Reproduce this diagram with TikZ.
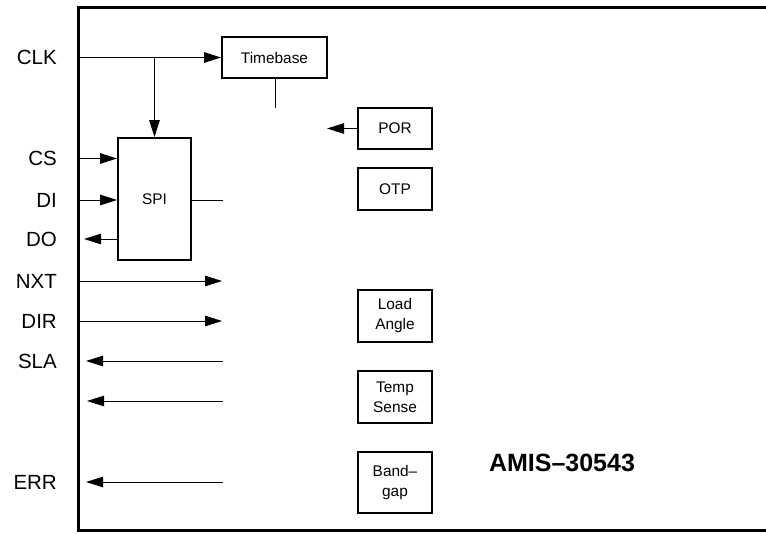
\documentclass[tikz,border=0pt]{standalone}
\usepackage{fontspec}
\setmainfont{Liberation Sans}
\usetikzlibrary{arrows.meta}
\begin{document}
\begin{tikzpicture}[x=1pt,y=-1pt,
  pinlabel/.style={anchor=east,inner sep=0pt,font=\fontsize{20.5}{24}\selectfont},
  blk/.style={draw,line width=1.8pt,inner sep=0pt,align=center,
    font=\fontsize{15.4}{20}\selectfont},
  conn/.style={line width=1pt},
  arr/.style={line width=1pt,-{Triangle[length=17pt,width=10.5pt]}},
  frame/.style={line width=3pt}]
\useasboundingbox (0,0) rectangle (766,533);
% frame
\draw[frame] (766,7) -- (78,7) -- (78,530) -- (766,530);
% blocks
\node[blk,minimum width=105pt,minimum height=41pt] (tb) at (274.5,57.5) {Timebase};
\node[blk,minimum width=73pt,minimum height=122pt] (spi) at (154.5,199) {SPI};
\node[blk,minimum width=74pt,minimum height=41pt] (por) at (395,128.5) {POR};
\node[blk,minimum width=74pt,minimum height=42pt] (otp) at (395,189) {OTP};
\node[blk,minimum width=74pt,minimum height=52pt] (la) at (395,316) {Load\\Angle};
\node[blk,minimum width=74pt,minimum height=52pt] (ts) at (395,397) {Temp\\Sense};
\node[blk,minimum width=74pt,minimum height=61pt] (bg) at (395,482.5) {Band–\\gap};
\node[inner sep=0pt,font=\fontsize{25}{30}\selectfont\bfseries] (title) at (562,463) {AMIS–30543};
% pin labels
\node[pinlabel] (lclk) at (57,57.5) {CLK};
\node[pinlabel] (lcs) at (57,158.5) {CS};
\node[pinlabel] (ldi) at (57,200) {DI};
\node[pinlabel] (ldo) at (57,239) {DO};
\node[pinlabel] (lnxt) at (57,281) {NXT};
\node[pinlabel] (ldir) at (57,321) {DIR};
\node[pinlabel] (lsla) at (57,361) {SLA};
\node[pinlabel] (lerr) at (57,482) {ERR};
% coordinates
\coordinate (fclk) at (78,57.5);
\coordinate (br) at (154.5,57.5);
\coordinate (tbend) at (275,108);
\coordinate (fcs) at (78,158.5);
\coordinate (fdi) at (78,200);
\coordinate (fdo) at (84,239);
\coordinate (spiout) at (223,200);
\coordinate (fnxt) at (78,281);
\coordinate (enxt) at (222,281);
\coordinate (fdir) at (78,321);
\coordinate (edir) at (222,321);
\coordinate (fsla) at (86,361);
\coordinate (esla) at (223,361);
\coordinate (fx) at (87,401);
\coordinate (ex) at (223,401);
\coordinate (ferr) at (86,482);
\coordinate (eerr) at (223,482);
\coordinate (porend) at (327,128.5);
% connectors
\draw[arr] (fclk) -- (tb.west);
\draw[arr] (br) -- (spi.north);
\draw[conn] (tb.south -| tbend) -- (tbend);
\draw[arr] (fcs) -- (spi.west |- fcs);
\draw[arr] (fdi) -- (spi.west |- fdi);
\draw[arr] (spi.west |- fdo) -- (fdo);
\draw[conn] (spi.east |- spiout) -- (spiout);
\draw[arr] (fnxt) -- (enxt);
\draw[arr] (fdir) -- (edir);
\draw[arr] (esla) -- (fsla);
\draw[arr] (ex) -- (fx);
\draw[arr] (eerr) -- (ferr);
\draw[arr] (por.west) -- (porend);
\end{tikzpicture}
\end{document}
